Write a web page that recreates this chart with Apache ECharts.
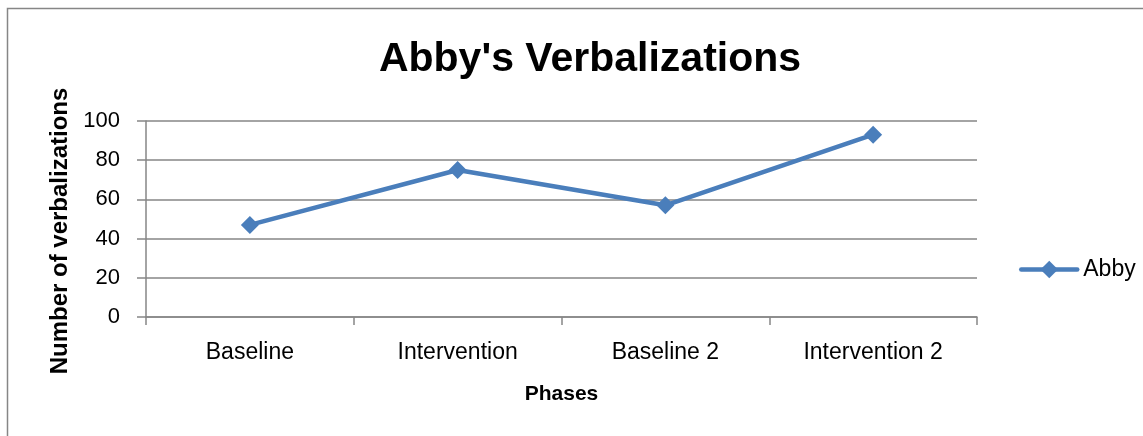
<!DOCTYPE html>
<html><head><meta charset="utf-8">
<script src="https://cdn.jsdelivr.net/npm/echarts@6/dist/echarts.min.js"></script>
<style>html,body{margin:0;padding:0;background:#fff}#c{width:1143px;height:436px}</style>
</head><body><div id="c"></div>
<script>
const categories = ["Baseline", "Intervention", "Baseline 2", "Intervention 2"];
const abby = [47, 75, 57, 93];
const yTicks = [0, 20, 40, 60, 80, 100];
const FONT = "'Liberation Sans', Arial, sans-serif";
const chart = echarts.init(document.getElementById('c'), null, {renderer: 'canvas'});
chart.setOption({
  animation: false,
  backgroundColor: '#fff',
  graphic: [{type: 'rect', shape: {x: 7.5, y: 8.5, width: 1150, height: 440}, style: {fill: 'none', stroke: '#868686', lineWidth: 1.5}, z: -1}],
  title: {text: "Abby's Verbalizations", left: 585, top: 34, textAlign: 'center',
    textStyle: {fontFamily: FONT, fontWeight: 'bold', fontSize: 41, color: '#000'}},
  legend: {data: ['Abby'], left: 1014, top: 253, itemWidth: 56, itemHeight: 22, itemGap: 4,
    lineStyle: {width: 4.5, cap: 'round'},
    textStyle: {fontFamily: FONT, fontSize: 23, color: '#000', padding: [0, 0, 0, 1]}},
  grid: {left: 146, right: 166, top: 121, bottom: 119, containLabel: false},
  xAxis: {type: 'category', data: categories, boundaryGap: true,
    name: 'Phases', nameLocation: 'middle', nameGap: 67,
    nameTextStyle: {fontFamily: FONT, fontWeight: 'bold', fontSize: 21, color: '#000'},
    axisLine: {lineStyle: {color: '#868686', width: 1.5}},
    axisTick: {show: true, length: 8, inside: false, lineStyle: {color: '#868686', width: 1.5}},
    axisLabel: {fontFamily: FONT, fontSize: 23, color: '#000', margin: 24}},
  yAxis: {type: 'value', min: 0, max: 100, interval: 20,
    name: 'Number of verbalizations', nameLocation: 'middle', nameGap: 73,
    nameTextStyle: {fontFamily: FONT, fontWeight: 'bold', fontSize: 24, color: '#000', padding: [0, 24, 0, 0]},
    axisLine: {show: true, lineStyle: {color: '#868686', width: 1.5}},
    axisTick: {show: true, length: 9, lineStyle: {color: '#868686', width: 1.5}},
    splitLine: {lineStyle: {color: '#868686', width: 1.5}},
    axisLabel: {fontFamily: FONT, fontSize: 22, color: '#000', margin: 26,
      formatter: v => yTicks.includes(v) ? String(v) : ''}},
  series: [{name: 'Abby', type: 'line', data: abby, symbol: 'diamond', symbolSize: 18,
    lineStyle: {color: '#4A7EBB', width: 4.5}, itemStyle: {color: '#4A7EBB'}}]
});
</script></body></html>
